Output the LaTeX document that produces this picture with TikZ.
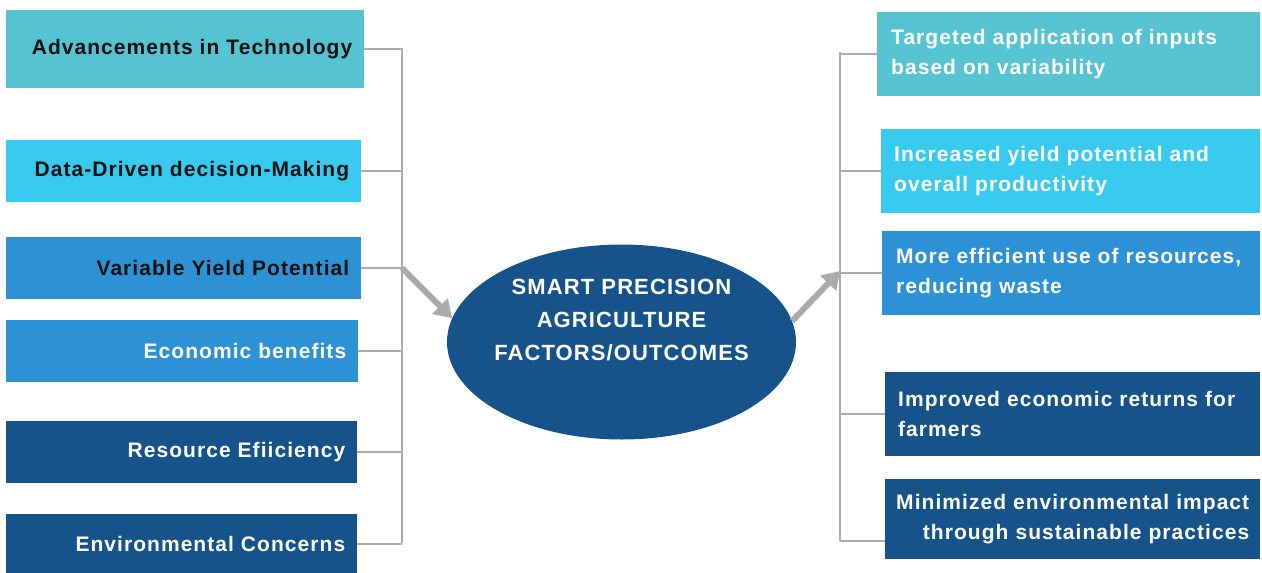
\documentclass[tikz,border=0pt]{standalone}
\usepackage{fontspec}
\setmainfont{Liberation Sans}[LetterSpace=5]
\usetikzlibrary{arrows.meta,shapes.geometric}
\definecolor{cteal}{HTML}{56C3D3}
\definecolor{ccyan}{HTML}{38C9EF}
\definecolor{cmid}{HTML}{2D91D6}
\definecolor{cdark}{HTML}{16538A}
\definecolor{cgray}{HTML}{ABABAB}
\definecolor{cink}{HTML}{111111}
\begin{document}
\begin{tikzpicture}[x=1pt,y=-1pt,
  box/.style={rectangle, draw=none, inner sep=0pt, anchor=north west,
    font=\bfseries\fontsize{21}{30}\selectfont},
  lbox/.style={box, align=right, text=cink},
  wbox/.style={box, text=white},
  conn/.style={draw=cgray, line width=2pt},
  bigarrow/.style={draw=cgray, line width=6pt,
    -{Triangle[length=17pt,width=21pt]}},
]
\useasboundingbox (0,0) rectangle (1262,573);

% left boxes
\node[lbox, fill=cteal, minimum width=358pt, minimum height=78pt, text width=334pt] (l1) at (6,10) {Advancements in Technology};
\node[lbox, fill=ccyan, minimum width=355pt, minimum height=62pt, text width=331pt] (l2) at (6,140) {Data-Driven decision-Making};
\node[lbox, fill=cmid, minimum width=355pt, minimum height=62pt, text width=331pt] (l3) at (6,237) {Variable Yield Potential};
\node[wbox, align=right, fill=cmid, minimum width=352pt, minimum height=62pt, text width=328pt] (l4) at (6,320) {Economic benefits};
\node[wbox, align=right, fill=cdark, minimum width=351pt, minimum height=62pt, text width=327pt] (l5) at (6,421) {Resource Efiiciency};
\node[wbox, align=right, fill=cdark, minimum width=351pt, minimum height=59pt, text width=327pt] (l6) at (6,514) {Environmental Concerns};

% right boxes
\node[wbox, align=left, fill=cteal, minimum width=383pt, minimum height=84pt, text width=355pt] (r1) at (877,12) {Targeted application of inputs\\based on variability};
\node[wbox, align=left, fill=ccyan, minimum width=379pt, minimum height=84pt, text width=353pt] (r2) at (881,129) {Increased yield potential and\\overall productivity};
\node[wbox, align=left, fill=cmid, minimum width=378pt, minimum height=84pt, text width=350pt] (r3) at (882,231) {More efficient use of resources,\\reducing waste};
\node[wbox, align=left, fill=cdark, minimum width=375pt, minimum height=84pt, text width=349pt] (r4) at (885,372) {Improved economic returns for\\farmers};
\node[wbox, align=right, fill=cdark, minimum width=375pt, minimum height=80pt, text width=353pt] (r5) at (885,479) {Minimized environmental impact\\through sustainable practices};

% central ellipse
\node[ellipse, fill=cdark, draw=none, minimum width=349pt, minimum height=195pt, inner sep=0pt] (c) at (621.5,342) {};
\node[text=white, align=center, font=\bfseries\fontsize{22}{33}\selectfont] (ct) at (621.5,320) {SMART PRECISION\\AGRICULTURE\\FACTORS/OUTCOMES};

% left bracket
\coordinate (lt) at (402,48);
\coordinate (lb) at (402,543);
\coordinate (lj) at (402,268);
\draw[conn] (lt) -- (lb);
\foreach \n in {l1,l2,l3,l4,l5,l6} \draw[conn] (\n.east) -- (\n.east -| lt);

% right bracket
\coordinate (rt) at (840,52);
\coordinate (rb) at (840,541);
\coordinate (rj) at (840,271);
\draw[conn] (rt) -- (rb);
\foreach \n in {r1,r2,r3,r4} \draw[conn] (\n.west -| rt) -- (\n.west);
\draw[conn] (rb) -- (rb -| r5.west);

% arrows
\draw[bigarrow] (lj) -- (c.172);
\draw[bigarrow] (c.7) -- (rj);
\end{tikzpicture}
\end{document}
